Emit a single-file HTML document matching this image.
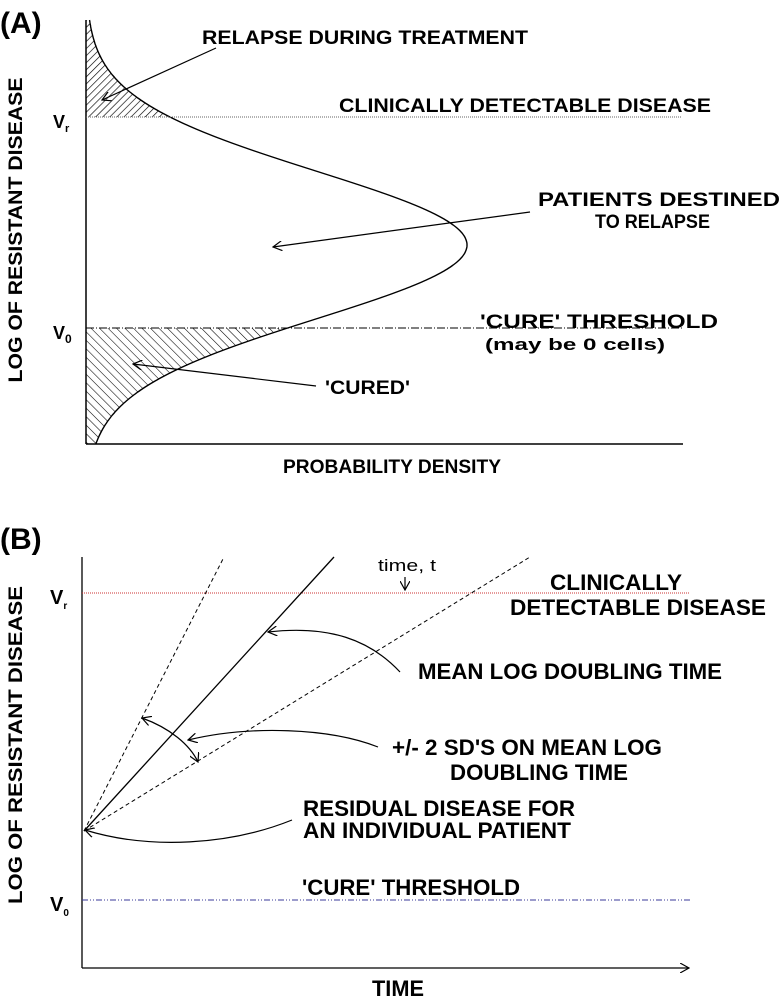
<!DOCTYPE html>
<html><head><meta charset="utf-8"><style>
html,body{margin:0;padding:0;background:#fff;}
svg{display:block;}
text{font-family:"Liberation Sans",Arial,sans-serif;font-weight:bold;fill:#000;}
.n{font-family:"Liberation Sans Narrow","Liberation Sans",sans-serif;}
</style></head><body>
<svg id="fig" width="783" height="1003" viewBox="0 0 783 1003" xmlns="http://www.w3.org/2000/svg">
<defs>
<pattern id="hatchA" width="5" height="5" patternUnits="userSpaceOnUse" patternTransform="rotate(45)"><line x1="0" y1="0" x2="0" y2="5" stroke="#000" stroke-width="1.3"/></pattern>
<pattern id="hatchB" width="6" height="6" patternUnits="userSpaceOnUse" patternTransform="rotate(-45)"><line x1="0" y1="0" x2="0" y2="6" stroke="#000" stroke-width="1.1"/></pattern>
<marker id="ah" markerWidth="10" markerHeight="10" refX="9" refY="5" orient="auto" markerUnits="userSpaceOnUse"><path d="M0,0 L9,5 L0,10" fill="none" stroke="#000" stroke-width="1.2"/></marker>
<marker id="ahs" markerWidth="10" markerHeight="10" refX="1" refY="5" orient="auto" markerUnits="userSpaceOnUse"><path d="M10,0 L1,5 L10,10" fill="none" stroke="#000" stroke-width="1.2"/></marker>
</defs>

<!-- Panel A -->
<g>
<text x="0" y="33" font-size="30">(A)</text>
<path id="hatchTop" fill="url(#hatchA)"/>
<path id="hatchBot" fill="url(#hatchB)"/>
<path id="curveA" fill="none" stroke="#000" stroke-width="1.4"/>
<line x1="86" y1="20" x2="86" y2="444" stroke="#000" stroke-width="1.5"/>
<line x1="86" y1="444" x2="683" y2="444" stroke="#000" stroke-width="1.5"/>
<line x1="86" y1="117" x2="682" y2="117" stroke="#666" stroke-width="1" stroke-dasharray="1,1"/>
<line x1="86" y1="328" x2="682" y2="328" stroke="#000" stroke-width="1" stroke-dasharray="8,2,1,2"/>
<text x="22" y="230" font-size="19" text-anchor="middle" transform="rotate(-90 22 230)" textLength="305" lengthAdjust="spacingAndGlyphs">LOG OF RESISTANT DISEASE</text>
<text x="53" y="128" font-size="18">V<tspan font-size="11" dy="4">r</tspan></text>
<text x="53" y="339" font-size="18">V<tspan font-size="12" dy="4">0</tspan></text>
<text x="202" y="44" font-size="19" textLength="326" lengthAdjust="spacingAndGlyphs">RELAPSE DURING TREATMENT</text>
<line x1="216" y1="48" x2="102" y2="100" stroke="#000" stroke-width="1.2" marker-end="url(#ah)"/>
<text x="339" y="112" font-size="19" textLength="372" lengthAdjust="spacingAndGlyphs">CLINICALLY DETECTABLE DISEASE</text>
<text x="538" y="206" font-size="19" textLength="242" lengthAdjust="spacingAndGlyphs">PATIENTS DESTINED</text>
<text x="595" y="228" font-size="19" textLength="115" lengthAdjust="spacingAndGlyphs">TO RELAPSE</text>
<line x1="530" y1="212" x2="273" y2="247" stroke="#000" stroke-width="1.2" marker-end="url(#ah)"/>
<text x="480" y="328" font-size="19" textLength="238" lengthAdjust="spacingAndGlyphs">'CURE' THRESHOLD</text>
<text x="485" y="350" font-size="17" textLength="180" lengthAdjust="spacingAndGlyphs">(may be 0 cells)</text>
<text x="325" y="394" font-size="19" textLength="85" lengthAdjust="spacingAndGlyphs">'CURED'</text>
<line x1="316" y1="386" x2="133" y2="364" stroke="#000" stroke-width="1.2" marker-end="url(#ah)"/>
<text x="283" y="473" font-size="19" textLength="218" lengthAdjust="spacingAndGlyphs">PROBABILITY DENSITY</text>
</g>

<!-- Panel B -->
<g>
<text x="0" y="549" font-size="30">(B)</text>
<line x1="82" y1="557" x2="82" y2="968" stroke="#000" stroke-width="1.3"/>
<line x1="82" y1="968" x2="689" y2="968" stroke="#000" stroke-width="1.3" marker-end="url(#ah)"/>
<line x1="82" y1="593" x2="690" y2="593" stroke="#c33" stroke-width="1" stroke-dasharray="1,1"/>
<line x1="82" y1="900" x2="690" y2="900" stroke="#3a3a9a" stroke-width="1" stroke-dasharray="6,2,1,2,1,2"/>
<g id="growth"></g>
<text x="22" y="745" font-size="19" text-anchor="middle" transform="rotate(-90 22 745)" textLength="318" lengthAdjust="spacingAndGlyphs">LOG OF RESISTANT DISEASE</text>
<text x="50" y="604" font-size="20" class="n">V<tspan font-size="10" dy="5">r</tspan></text>
<text x="50" y="911" font-size="20" class="n">V<tspan font-size="10" dy="5">0</tspan></text>
<text x="378" y="571" font-size="17" class="n" style="font-weight:normal" textLength="58" lengthAdjust="spacingAndGlyphs">time, t</text>
<line x1="405" y1="577" x2="405" y2="590" stroke="#000" stroke-width="1.2" marker-end="url(#ah)"/>
<text x="550" y="590" font-size="22" class="n" textLength="132" lengthAdjust="spacingAndGlyphs">CLINICALLY</text>
<text x="510" y="615" font-size="22" class="n" textLength="256" lengthAdjust="spacingAndGlyphs">DETECTABLE DISEASE</text>
<text x="418" y="679" font-size="22" class="n" textLength="304" lengthAdjust="spacingAndGlyphs">MEAN LOG DOUBLING TIME</text>
<path d="M400,672 C370,640 330,625 268,632" fill="none" stroke="#000" stroke-width="1.2" marker-end="url(#ah)"/>
<text x="392" y="755" font-size="22" class="n" textLength="270" lengthAdjust="spacingAndGlyphs">+/- 2 SD'S ON MEAN LOG</text>
<text x="450" y="780" font-size="22" class="n" textLength="178" lengthAdjust="spacingAndGlyphs">DOUBLING TIME</text>
<path d="M378,747 C330,728 250,725 188,740" fill="none" stroke="#000" stroke-width="1.2" marker-end="url(#ah)"/>
<path d="M142,718 C170,728 190,745 198,762" fill="none" stroke="#000" stroke-width="1.2" marker-start="url(#ahs)" marker-end="url(#ah)"/>
<text x="303" y="816" font-size="22" class="n" textLength="272" lengthAdjust="spacingAndGlyphs">RESIDUAL DISEASE FOR</text>
<text x="303" y="838" font-size="22" class="n" textLength="268" lengthAdjust="spacingAndGlyphs">AN INDIVIDUAL PATIENT</text>
<path d="M292,820 C230,845 150,850 85,830" fill="none" stroke="#000" stroke-width="1.2" marker-end="url(#ah)"/>
<text x="302" y="895" font-size="22" class="n" textLength="218" lengthAdjust="spacingAndGlyphs">'CURE' THRESHOLD</text>
<text x="372" y="996" font-size="22" class="n" textLength="52" lengthAdjust="spacingAndGlyphs">TIME</text>
</g>
</svg>
<script>
// Panel A distribution (sideways normal)
const peakLevel = [245];
const spreadLevel = [73.6];
const peakDensity = [381];
const thresholds = [117, 328];  // Vr, V0 levels
// Panel B growth lines
const lineNames = ['fast-sd-line','mean-line','slow-sd-line'];
const lineEndX = [224, 334, 530];
const lineEndY = [557, 557, 557];
const lineDash = ['4,3','', '4,3'];

const xA = d => 86 + d;
const dens = y => peakDensity[0]*Math.exp(-Math.pow(y-peakLevel[0],2)/(2*spreadLevel[0]*spreadLevel[0]));
function curvePts(y0,y1){let p=[];for(let y=y0;y<=y1;y+=1)p.push([xA(dens(y)),y]);return p;}
const allPts = curvePts(20,444);
document.getElementById('curveA').setAttribute('d','M'+allPts.map(p=>p[0].toFixed(1)+','+p[1]).join(' L'));
const topPts = curvePts(20,thresholds[0]);
document.getElementById('hatchTop').setAttribute('d','M86,20 L'+topPts.map(p=>p[0].toFixed(1)+','+p[1]).join(' L')+' L86,'+thresholds[0]+' Z');
const botPts = curvePts(thresholds[1],444);
document.getElementById('hatchBot').setAttribute('d','M86,'+thresholds[1]+' L'+botPts.map(p=>p[0].toFixed(1)+','+p[1]).join(' L')+' L86,444 Z');

const growthG = document.getElementById('growth');
const ox = 84, oy = 831;
for (let i=0;i<lineEndX.length;i++){
  const l = document.createElementNS('http://www.w3.org/2000/svg','line');
  l.setAttribute('x1',ox); l.setAttribute('y1',oy);
  l.setAttribute('x2',lineEndX[i]); l.setAttribute('y2',lineEndY[i]);
  l.setAttribute('stroke','#000'); l.setAttribute('stroke-width', lineDash[i]?'1':'1.3');
  if(lineDash[i]) l.setAttribute('stroke-dasharray',lineDash[i]);
  
  
  growthG.appendChild(l);
}
</script>
</body></html>
